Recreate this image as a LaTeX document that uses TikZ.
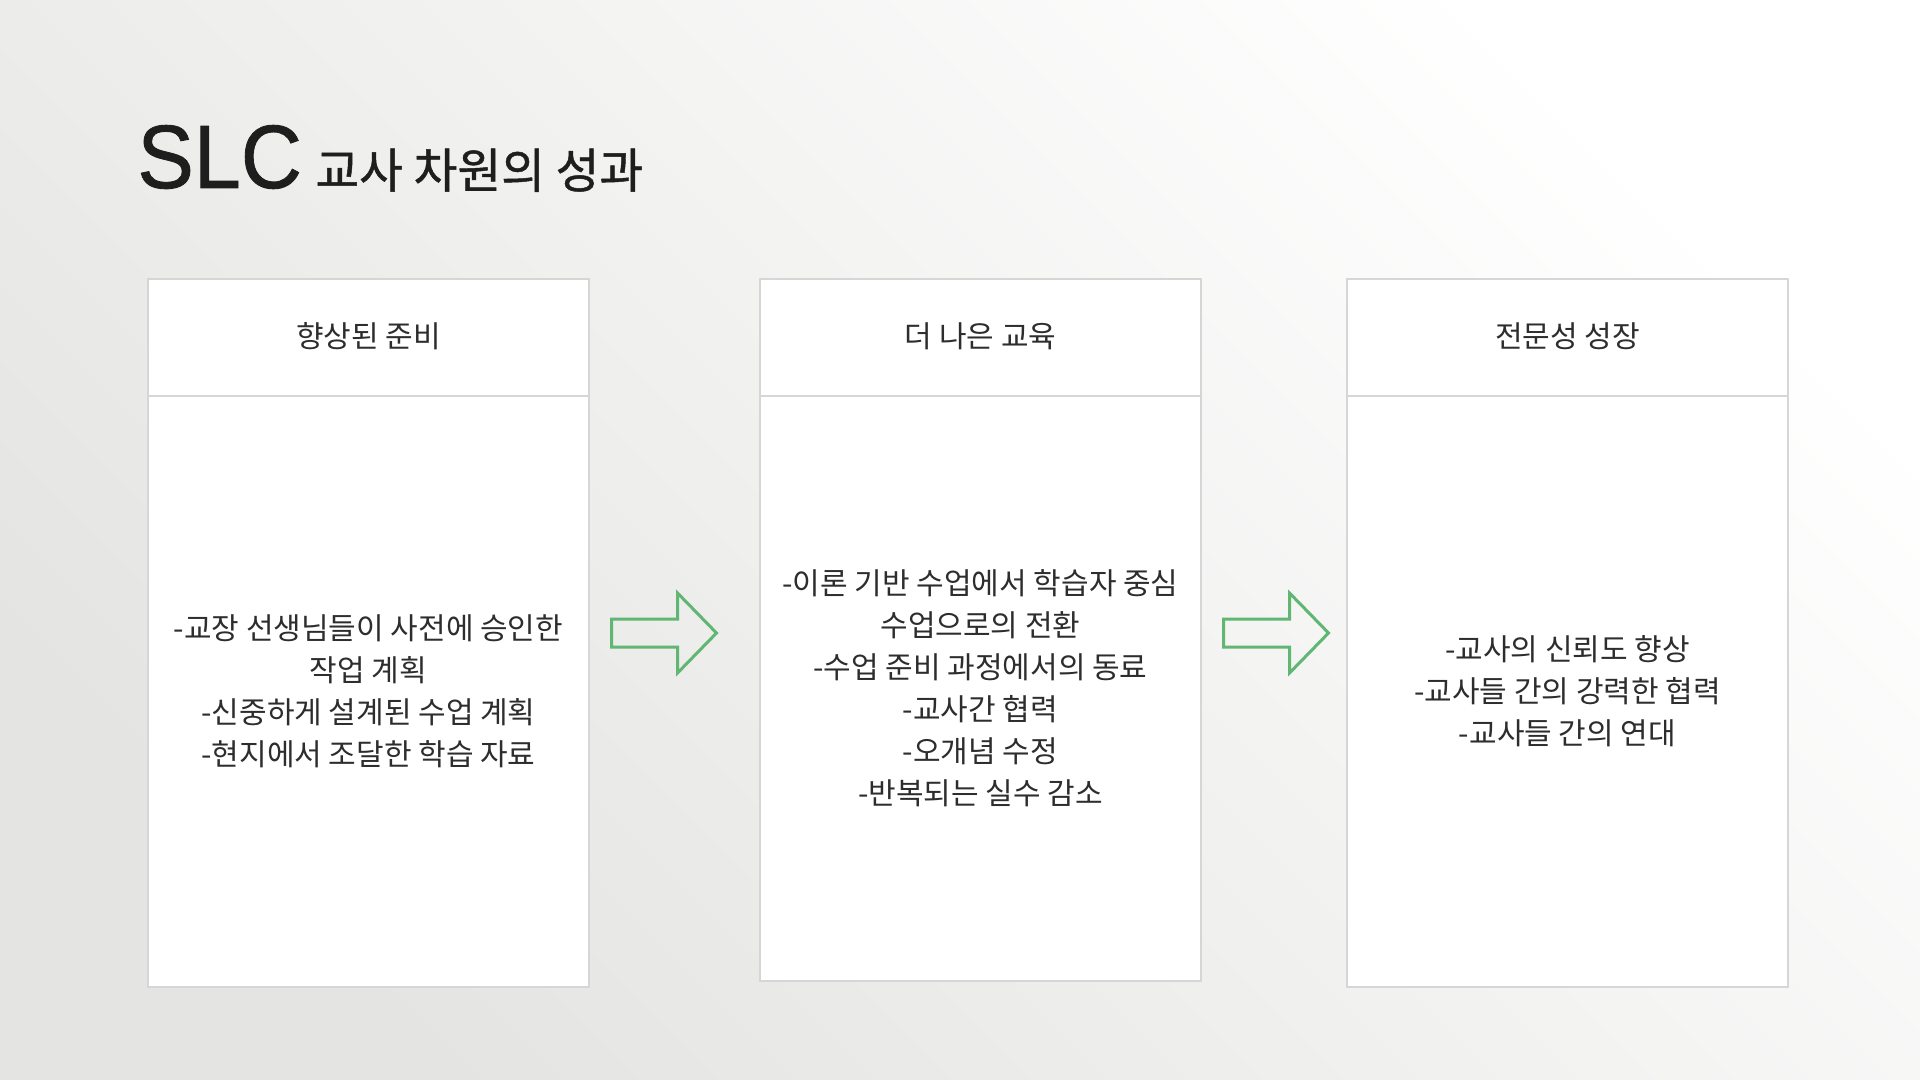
\documentclass[tikz,border=0pt]{standalone}
\usepackage{fontspec}
\setmainfont{Noto Sans CJK KR}
\newfontfamily\titlelatin{Liberation Sans}[FakeBold=1]
\newfontfamily\titlekr{Noto Sans CJK KR}[FakeBold=1]
\usetikzlibrary{positioning, calc}
\definecolor{bggray}{RGB}{228,228,226}
\definecolor{boxline}{RGB}{214,214,214}
\definecolor{arrowgreen}{RGB}{96,182,114}
\definecolor{textgray}{RGB}{45,45,45}
\definecolor{titleblack}{RGB}{30,30,30}
\tikzset{
  headbox/.style={draw=boxline, line width=0.75pt, fill=white, outer sep=0pt, inner sep=0pt,
    minimum width=220.5pt, minimum height=58.5pt, text=textgray, font=\fontsize{15}{21}\selectfont},
  bodybox/.style={headbox, minimum height=295.5pt, align=center},
  arrowline/.style={draw=arrowgreen, line width=1.5pt, line join=miter}
}

\begin{document}
\begin{tikzpicture}[x=0.5pt, y=-0.5pt]
    % 背景
    \useasboundingbox (0,0) rectangle (1920,1080);
    \shade[top color=white, bottom color=bggray, shading angle=-45] (0,0) rectangle (1920,1080);

    % 标题
    \node[anchor=base west, inner sep=0pt, text=titleblack, font=\titlelatin\fontsize{45}{45}\selectfont] (slc) at (137,188) {\scalebox{0.94}[1]{SLC}};
    \node[anchor=base west, inner sep=0pt, text=titleblack, font=\titlekr\fontsize{23.8}{24}\selectfont] (ttl) at (315,188) {교사 차원의 성과};

    % 三个框
    \node[headbox] (h1) at (368.5,337.5) {\raisebox{2.5pt}{향상된 준비}};
    \node[bodybox, below=0pt of h1] (b1) {-교장 선생님들이 사전에 승인한\\작업 계획\\-신중하게 설계된 수업 계획\\-현지에서 조달한 학습 자료};

    \node[headbox] (h2) at (980.5,337.5) {\raisebox{2.5pt}{더 나은 교육}};
    \node[bodybox, minimum height=292.5pt, below=0pt of h2] (b2) {-이론 기반 수업에서 학습자 중심\\수업으로의 전환\\-수업 준비 과정에서의 동료\\-교사간 협력\\-오개념 수정\\-반복되는 실수 감소};

    \node[headbox] (h3) at (1567.5,337.5) {\raisebox{2.5pt}{전문성 성장}};
    \node[bodybox, below=0pt of h3] (b3) {-교사의 신뢰도 향상\\-교사들 간의 강력한 협력\\-교사들 간의 연대};

    % 箭头
    \foreach \ax in {611.5, 1223.5}
        \draw[arrowline] (\ax,619) -- ++(66,0) -- ++(0,-26) -- ++(39,40) -- ++(-39,40) -- ++(0,-26) -- ++(-66,0) -- cycle;
\end{tikzpicture}
\end{document}
